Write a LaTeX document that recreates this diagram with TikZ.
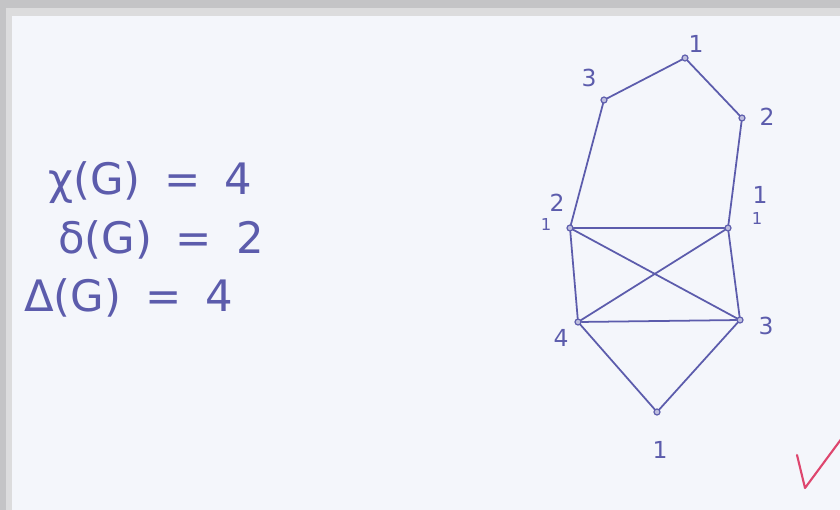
\documentclass[tikz,border=0pt]{standalone}
\usepackage{fontspec}
\setmainfont{DejaVu Sans}
\usetikzlibrary{positioning}
\definecolor{inkblue}{RGB}{92,92,172}
\definecolor{paper}{RGB}{244,246,251}
\definecolor{frame}{RGB}{196,196,198}
\definecolor{markred}{RGB}{222,70,110}
\newcommand{\eqsp}{\hspace{0.55em}}

\begin{document}
\begin{tikzpicture}[x=0.03cm, y=-0.03cm,
      vtx/.style={circle, draw=inkblue, fill=inkblue!40, line width=1pt,
                  inner sep=0pt, minimum size=0.18cm},
      lab/.style={text=inkblue, font=\fontsize{20}{22}\selectfont, inner sep=1pt},
      small/.style={text=inkblue, font=\fontsize{14}{16}\selectfont, inner sep=1pt},
      formula/.style={text=inkblue, font=\fontsize{37}{40}\selectfont, anchor=west},
      edge/.style={draw=inkblue, line width=1.5pt, line cap=round}
    ]
    \useasboundingbox (0,0) rectangle (840,510);
    \fill[frame] (0,0) rectangle (840,510);
    \fill[frame!60] (6,8) rectangle (840,510);
    \fill[paper] (12,16) rectangle (840,510);

    \node[formula] (chi) at (44,183) {χ(G)\eqsp=\eqsp4};
    \node[formula] (dlt) at (54,240) {δ(G)\eqsp=\eqsp2};
    \node[formula] (Dlt) at (20,298) {Δ(G)\eqsp=\eqsp4};

    \node[vtx] (top) at (685,58) {};
    \node[vtx] (ul) at (604,100) {};
    \node[vtx] (ur) at (742,118) {};
    \node[vtx] (tl) at (570,228) {};
    \node[vtx] (tr) at (728,228) {};
    \node[vtx] (bl) at (578,322) {};
    \node[vtx] (br) at (740,320) {};
    \node[vtx] (bot) at (657,412) {};

    \node[lab] (ltop) at (696,44) {1};
    \node[lab] (lul) at (589,78) {3};
    \node[lab] (lur) at (767,117) {2};
    \node[lab] (ltl) at (557,203) {2};
    \node[small] (ltl2) at (546,225) {1};
    \node[lab] (ltr) at (760,195) {1};
    \node[small] (ltr2) at (757,219) {1};
    \node[lab] (lbl) at (561,338) {4};
    \node[lab] (lbr) at (766,326) {3};
    \node[lab] (lbot) at (660,450) {1};

    \draw[edge] (top) -- (ul);
    \draw[edge] (top) -- (ur);
    \draw[edge] (ul) -- (tl);
    \draw[edge] (ur) -- (tr);
    \draw[edge] (tl) -- (tr);
    \draw[edge] (tl) -- (bl);
    \draw[edge] (tr) -- (br);
    \draw[edge] (bl) -- (br);
    \draw[edge] (tl) -- (br);
    \draw[edge] (tr) -- (bl);
    \draw[edge] (bl) -- (bot);
    \draw[edge] (br) -- (bot);

    \draw[markred, line width=1.8pt, line cap=round, line join=round]
      (797,455) -- (805,488) -- (842,438);
  \end{tikzpicture}
\end{document}
